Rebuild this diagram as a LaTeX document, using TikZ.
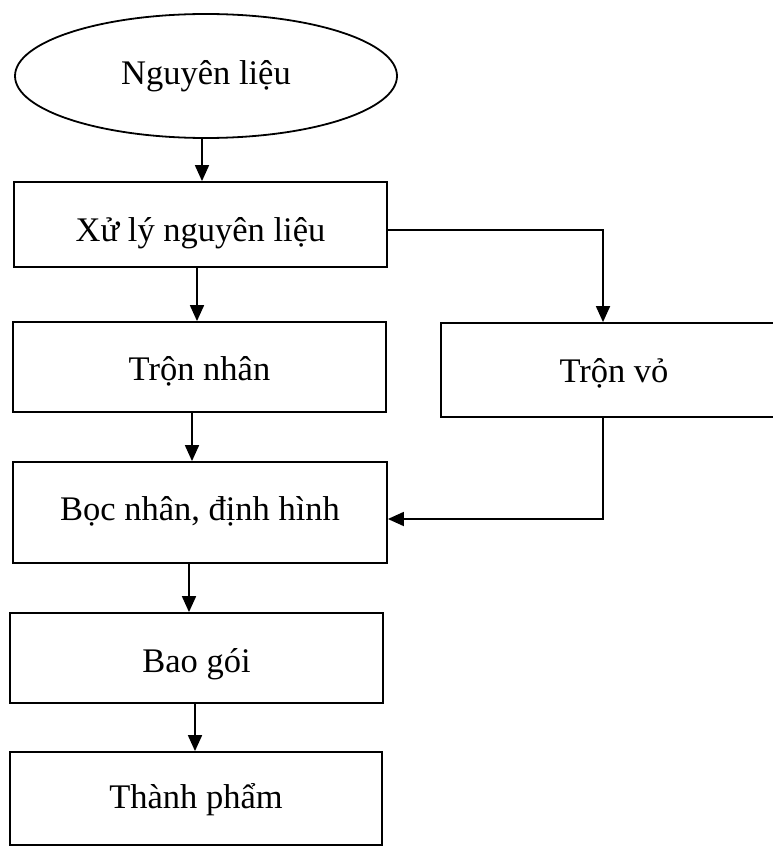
\documentclass[tikz,border=0pt]{standalone}
\usepackage{fontspec}
\setmainfont{Liberation Serif}
\usetikzlibrary{arrows.meta,shapes.geometric}
\begin{document}
\begin{tikzpicture}[x=1pt,y=-1pt,
  every node/.style={font=\fontsize{34.5}{41}\selectfont},
  bl/.style={text depth=0pt,text height=#1},
  stepbox/.style={draw,line width=1.8pt,rectangle,inner sep=0pt},
  startshape/.style={draw,line width=1.8pt,ellipse,inner sep=0pt},
  arr/.style={line width=1.8pt,-{Triangle[length=16pt,width=14pt]}}]
\useasboundingbox (0,0) rectangle (773,848);
\clip (0,0) rectangle (773,848);
\node[startshape,bl=18pt,minimum width=382pt,minimum height=124pt] (e1) at (206,76) {Nguyên liệu};
\node[stepbox,bl=34pt,minimum width=373pt,minimum height=85pt] (b1) at (200.5,224.5) {Xử lý nguyên liệu};
\node[stepbox,bl=26pt,minimum width=373pt,minimum height=90pt] (b2) at (199.5,367) {Trộn nhân};
\node[stepbox,bl=24pt,minimum width=346pt,minimum height=94pt] (b3) at (614,370) {Trộn vỏ};
\node[stepbox,bl=15pt,minimum width=374pt,minimum height=101pt] (b4) at (200,512.5) {Bọc nhân, định hình};
\node[stepbox,bl=28pt,minimum width=373pt,minimum height=90pt] (b5) at (196.5,658) {Bao gói};
\node[stepbox,bl=19pt,minimum width=372pt,minimum height=93pt] (b6) at (196,798.5) {Thành phẩm};
\draw[arr] ([xshift=-4pt]e1.south) -- ([xshift=1.5pt]b1.north);
\draw[arr] ([xshift=-3.5pt]b1.south) -- ([xshift=-2.5pt]b2.north);
\draw[arr] ([xshift=-7.5pt]b2.south) -- ([xshift=-8pt]b4.north);
\draw[arr] ([xshift=-11pt]b4.south) -- ([xshift=-7.5pt]b5.north);
\draw[arr] ([xshift=-1.5pt]b5.south) -- ([xshift=-1pt]b6.north);
\draw[arr] ([yshift=-5.5pt]b1.east) -| ([xshift=-11pt]b3.north);
\draw[arr] ([xshift=-11pt]b3.south) |- ([yshift=-6.5pt]b4.east);
\end{tikzpicture}
\end{document}
